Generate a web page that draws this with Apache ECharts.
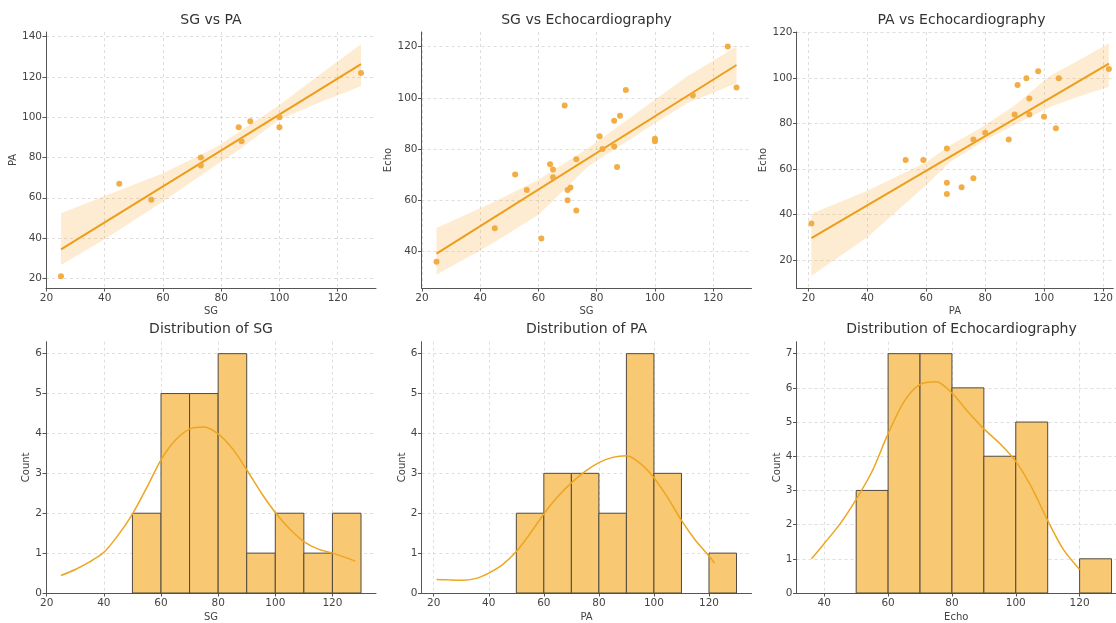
<!DOCTYPE html>
<html>
<head>
<meta charset="utf-8">
<script src="https://cdn.jsdelivr.net/npm/echarts@6/dist/echarts.min.js"></script>
<style>
    html, body { margin: 0; padding: 0; background: #fff; }
    #main { width: 1116px; height: 623px; }
</style>
</head>
<body>
<div id="main"></div>
<script>
// ---- SG vs PA ----
let sgPaX = [25, 45, 56, 73, 73, 86, 87, 90, 100, 100, 128];
let sgPaY = [21, 67, 59, 80, 76, 95, 88, 98, 100, 95, 122];
let sgPaLineX = [25, 128];
let sgPaLineY = [34.4, 126.4];
let sgPaBandX = [25, 40, 60, 78, 87, 100, 115, 128];
let sgPaBandHi = [52.3, 60.9, 72.2, 85, 93.5, 106, 122.5, 136.2];
let sgPaBandLo = [26.6, 39.4, 58.1, 76, 84.7, 98.8, 108, 115.4];

// ---- SG vs Echocardiography ----
let sgEchoX = [25, 45, 52, 56, 61, 64, 65, 65, 69, 70, 70, 71, 73, 73, 81, 82, 86, 86, 87, 88, 90, 100, 100, 113, 125, 128];
let sgEchoY = [36, 49, 70, 64, 45, 74, 72, 69, 97, 64, 60, 65, 76, 56, 85, 80, 91, 81, 73, 93, 103, 84, 83, 101, 120, 104];
let sgEchoLineX = [25, 128];
let sgEchoLineY = [39.1, 112.8];
let sgEchoBandX = [25, 44, 60, 77, 100, 111, 128];
let sgEchoBandHi = [49.1, 58.9, 68, 80.3, 99.2, 108.3, 120];
let sgEchoBandLo = [30.9, 43, 54.3, 73.2, 90.1, 97.9, 105.7];

// ---- PA vs Echocardiography ----
let paEchoX = [21, 53, 59, 67, 67, 67, 72, 76, 76, 80, 88, 90, 91, 94, 95, 95, 98, 100, 104, 105, 122];
let paEchoY = [36, 64, 64, 69, 54, 49, 52, 73, 56, 76, 73, 84, 97, 100, 91, 84, 103, 83, 78, 100, 104];
let paEchoLineX = [21, 122];
let paEchoLineY = [29.6, 106.4];
let paEchoBandX = [21, 40, 60, 68, 79, 90, 102, 112, 122];
let paEchoBandHi = [40.3, 50.5, 63, 70.4, 78.5, 88, 101, 108, 115.3];
let paEchoBandLo = [13.1, 30, 53, 63, 71.9, 79.5, 87.3, 92, 96.2];

// ---- 直方图 ----
let binEdges = [50, 60, 70, 80, 90, 100, 110, 120, 130];
let sgCounts = [2, 5, 5, 6, 1, 2, 1, 2];
let paCounts = [2, 3, 3, 2, 6, 3, 0, 1];
let echoCounts = [3, 7, 7, 6, 4, 5, 0, 1];

// ---- KDE 曲线 ----
let sgKdeX = [25, 30, 35, 40, 45, 50, 55, 60, 65, 70, 75, 80, 85, 90, 95, 100, 105, 110, 115, 120, 125, 128];
let sgKdeY = [0.44, 0.59, 0.78, 1.02, 1.45, 1.98, 2.64, 3.34, 3.83, 4.11, 4.16, 3.99, 3.62, 3.09, 2.52, 2.02, 1.61, 1.29, 1.1, 1.0, 0.88, 0.8];
let paKdeX = [21, 25, 30, 35, 40, 45, 50, 55, 60, 65, 70, 75, 80, 85, 90, 95, 100, 105, 110, 115, 120, 122];
let paKdeY = [0.34, 0.33, 0.32, 0.36, 0.5, 0.71, 1.04, 1.49, 1.98, 2.41, 2.76, 3.05, 3.27, 3.40, 3.44, 3.25, 2.89, 2.39, 1.82, 1.33, 0.93, 0.75];
let echoKdeX = [36, 40, 45, 50, 55, 60, 65, 70, 75, 80, 85, 90, 95, 100, 105, 110, 115, 120];
let echoKdeY = [1.0, 1.45, 2.03, 2.74, 3.56, 4.66, 5.6, 6.1, 6.18, 5.85, 5.3, 4.8, 4.37, 3.85, 3.08, 2.12, 1.26, 0.69];

// ---- 刻度 ----
let ticks20to120 = [20, 40, 60, 80, 100, 120];
let ticks20to140 = [20, 40, 60, 80, 100, 120, 140];
let ticks40to120 = [40, 60, 80, 100, 120];
let ticks0to6 = [0, 1, 2, 3, 4, 5, 6];
let ticks0to7 = [0, 1, 2, 3, 4, 5, 6, 7];

let titles = ['SG vs PA', 'SG vs Echocardiography', 'PA vs Echocardiography',
    'Distribution of SG', 'Distribution of PA', 'Distribution of Echocardiography'];

const FONT = 'DejaVu Sans';
const POINT_COLOR = '#f2a93b';
const LINE_COLOR = '#ee9d1a';
const BAND_COLOR = 'rgba(247, 170, 50, 0.22)';
const BAR_COLOR = '#f9c872';
const KDE_COLOR = '#eda522';

let colLeft = [46, 421.5, 796.5];
let colWidth = [330, 330, 319.5];   // 最右一列在画布边缘被截断
let rowTop = [32, 341.7];
let rowHeight = [256, 255.6];

function pairs(xs, ys) {
    let out = [];
    for (let i = 0; i < xs.length; i++) {
        out.push([xs[i], ys[i]]);
    }
    return out;
}

/**
 * 数值坐标轴
 */
function axis(gridIndex, min, max, ticks, name, nameGap, isY) {
    return {
        type: 'value',
        gridIndex: gridIndex,
        min: min,
        max: max,
        name: name,
        nameLocation: 'middle',
        nameGap: nameGap,
        nameTextStyle: {fontFamily: FONT, fontSize: 10, color: '#444'},
        axisLine: {show: true, onZero: false, lineStyle: {color: '#555', width: 1}},
        axisTick: {show: true, customValues: ticks, length: 3.5, lineStyle: {color: '#555'}},
        axisLabel: {customValues: ticks, fontFamily: FONT, fontSize: 10.5, color: '#444', margin: isY ? 4 : 5},
        splitLine: {show: true, lineStyle: {color: '#d6d6d6', type: [3, 3], width: 0.8}}
    };
}

function bandSeries(idx, xs, lo, hi) {
    return {
        type: 'custom',
        xAxisIndex: idx,
        yAxisIndex: idx,
        silent: true,
        z: 1,
        data: [[xs[0], lo[0]]],
        renderItem: function (params, api) {
            let pts = [];
            for (let i = 0; i < xs.length; i++) pts.push(api.coord([xs[i], hi[i]]));
            for (let i = xs.length - 1; i >= 0; i--) pts.push(api.coord([xs[i], lo[i]]));
            return {type: 'polygon', shape: {points: pts}, style: {fill: BAND_COLOR}};
        }
    };
}

function regLine(idx, xs, ys) {
    return {
        type: 'line', xAxisIndex: idx, yAxisIndex: idx, z: 3,
        data: pairs(xs, ys), symbol: 'none',
        lineStyle: {color: LINE_COLOR, width: 2}
    };
}

function scatter(idx, xs, ys) {
    return {
        type: 'scatter', xAxisIndex: idx, yAxisIndex: idx, z: 4,
        data: pairs(xs, ys), symbolSize: 6,
        itemStyle: {color: POINT_COLOR, opacity: 0.95}
    };
}

function histSeries(idx, counts) {
    let data = [];
    for (let i = 0; i < counts.length; i++) {
        if (counts[i] > 0) data.push([binEdges[i], binEdges[i + 1], counts[i]]);
    }
    return {
        type: 'custom', xAxisIndex: idx, yAxisIndex: idx, z: 2,
        data: data,
        encode: {x: [0, 1], y: 2},
        renderItem: function (params, api) {
            let p0 = api.coord([api.value(0), api.value(2)]);
            let p1 = api.coord([api.value(1), 0]);
            return {
                type: 'rect',
                shape: {x: p0[0], y: p0[1], width: p1[0] - p0[0], height: p1[1] - p0[1]},
                style: {fill: BAR_COLOR, stroke: '#514a40', lineWidth: 1}
            };
        }
    };
}

function kdeLine(idx, xs, ys) {
    return {
        type: 'line', xAxisIndex: idx, yAxisIndex: idx, z: 3,
        data: pairs(xs, ys), symbol: 'none', smooth: 0.3,
        lineStyle: {color: KDE_COLOR, width: 1.5}
    };
}

let grids = [];
let titleList = [];
for (let r = 0; r < 2; r++) {
    for (let c = 0; c < 3; c++) {
        grids.push({left: colLeft[c], top: rowTop[r], width: colWidth[c], height: rowHeight[r]});
        titleList.push({
            text: titles[r * 3 + c],
            left: colLeft[c] + 165,
            top: r === 0 ? 13 : 322,
            textAlign: 'center',
            padding: 0,
            textStyle: {fontFamily: FONT, fontSize: 14, fontWeight: 'normal', color: '#333'}
        });
    }
}

let xAxes = [
    axis(0, 19.85, 133.15, ticks20to120, 'SG', 18, false),
    axis(1, 19.85, 133.15, ticks20to120, 'SG', 18, false),
    axis(2, 15.95, 123.5, ticks20to120, 'PA', 18, false),
    axis(3, 19.75, 135.25, ticks20to120, 'SG', 19, false),
    axis(4, 15.55, 135.45, ticks20to120, 'PA', 19, false),
    axis(5, 31.3, 131.4, ticks40to120, 'Echo', 19, false)
];
let yAxes = [
    axis(0, 15.2, 142.3, ticks20to140, 'PA', 24, true),
    axis(1, 25.7, 125.7, ticks40to120, 'Echo', 26, true),
    axis(2, 7.66, 120.3, ticks20to120, 'Echo', 27, true),
    axis(3, 0, 6.3, ticks0to6, 'Count', 13, true),
    axis(4, 0, 6.3, ticks0to6, 'Count', 13, true),
    axis(5, 0, 7.35, ticks0to7, 'Count', 13, true)
];

let option = {
    backgroundColor: '#fff',
    animation: false,
    title: titleList,
    grid: grids,
    xAxis: xAxes,
    yAxis: yAxes,
    series: [
        bandSeries(0, sgPaBandX, sgPaBandLo, sgPaBandHi),
        regLine(0, sgPaLineX, sgPaLineY),
        scatter(0, sgPaX, sgPaY),
        bandSeries(1, sgEchoBandX, sgEchoBandLo, sgEchoBandHi),
        regLine(1, sgEchoLineX, sgEchoLineY),
        scatter(1, sgEchoX, sgEchoY),
        bandSeries(2, paEchoBandX, paEchoBandLo, paEchoBandHi),
        regLine(2, paEchoLineX, paEchoLineY),
        scatter(2, paEchoX, paEchoY),
        histSeries(3, sgCounts),
        kdeLine(3, sgKdeX, sgKdeY),
        histSeries(4, paCounts),
        kdeLine(4, paKdeX, paKdeY),
        histSeries(5, echoCounts),
        kdeLine(5, echoKdeX, echoKdeY)
    ]
};

let chart = echarts.init(document.getElementById('main'), null, {renderer: 'canvas'});
chart.setOption(option);
</script>
</body>
</html>
